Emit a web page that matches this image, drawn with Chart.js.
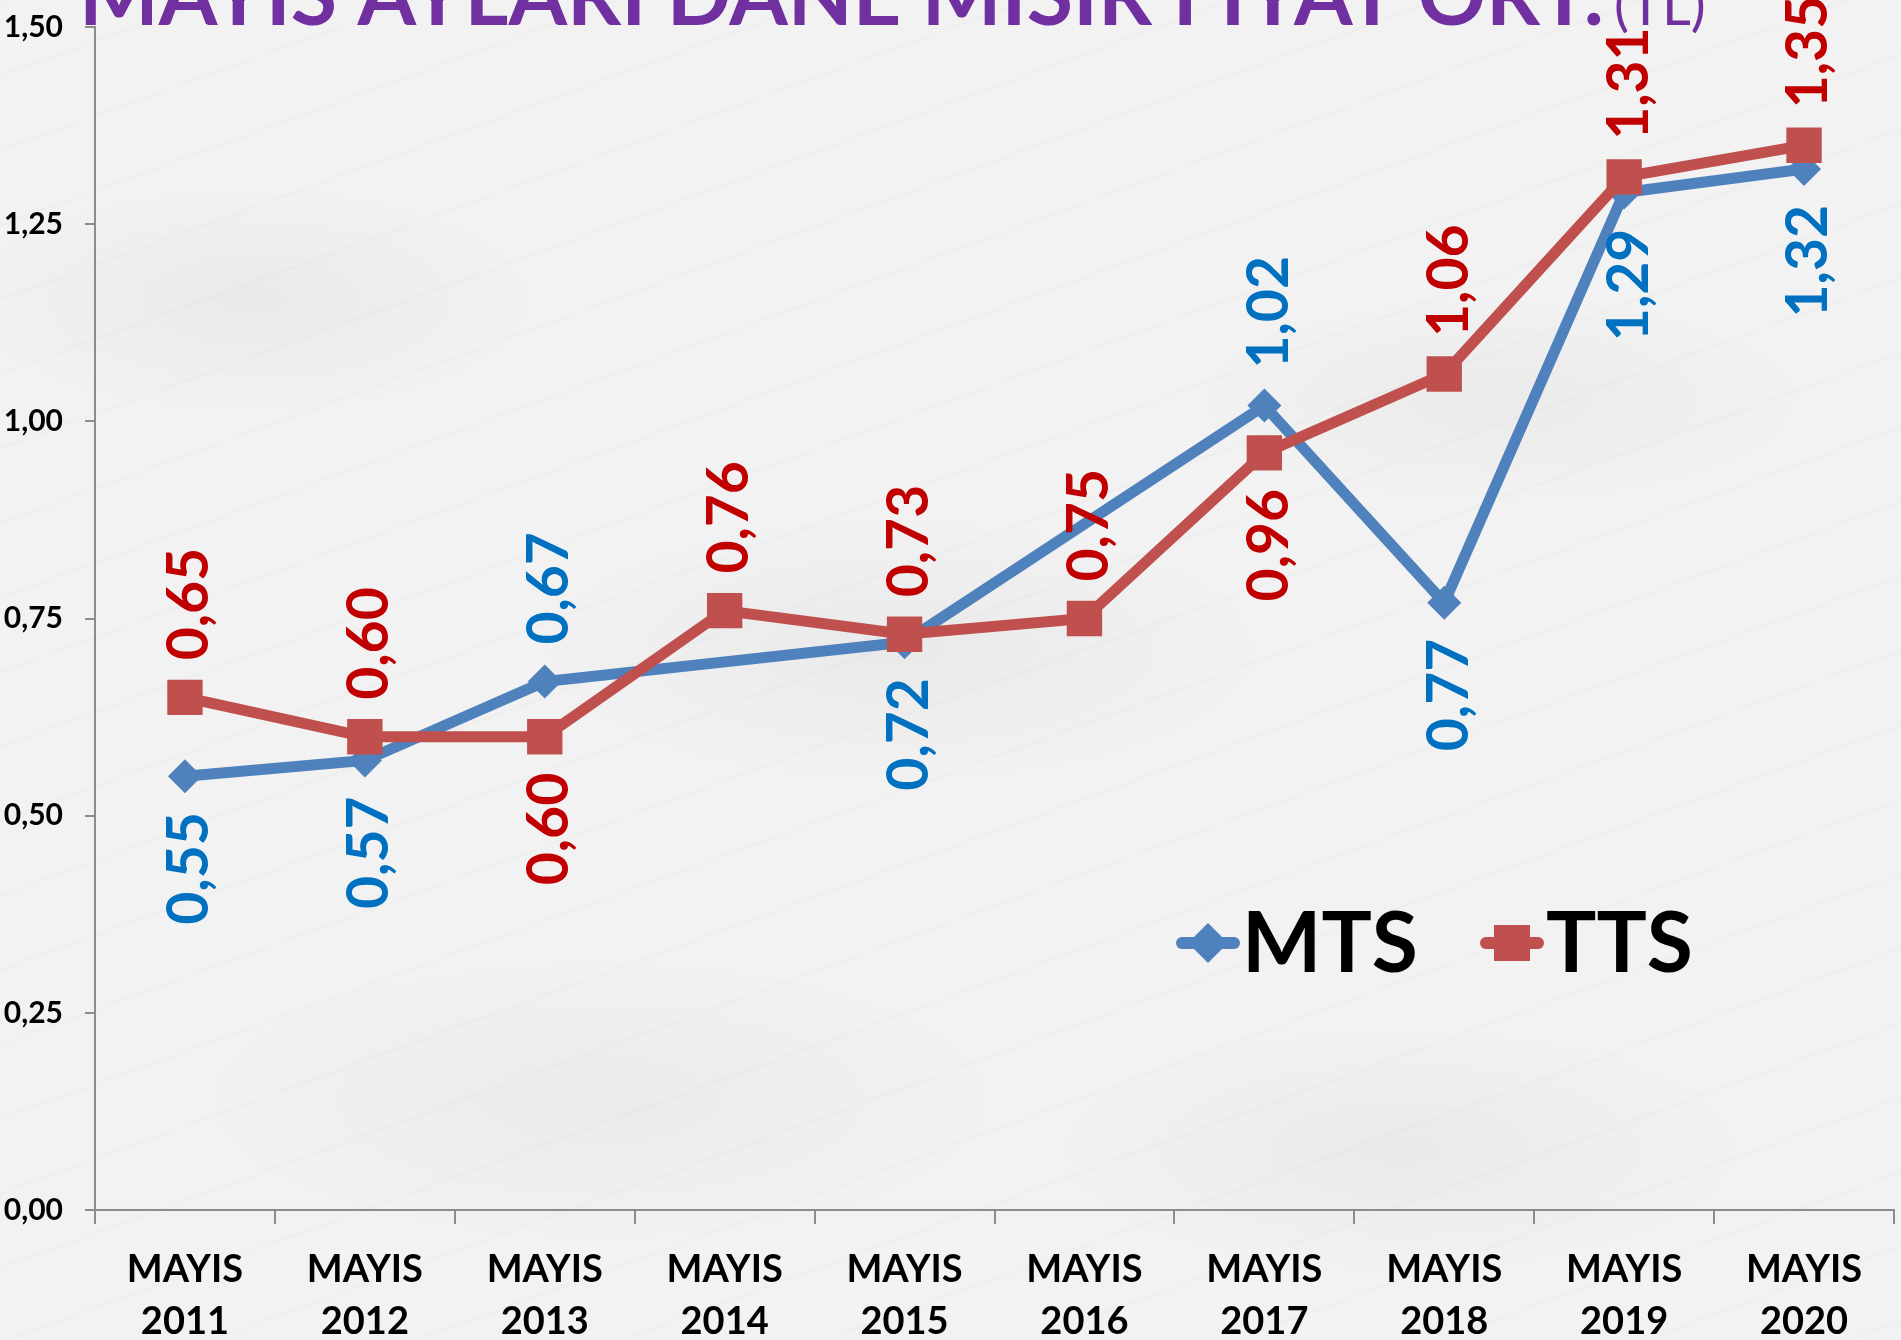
<!DOCTYPE html>
<html>
<head>
<meta charset="utf-8">
<script src="https://cdn.jsdelivr.net/npm/chart.js@4.4.0/dist/chart.umd.min.js"></script>
<style>
  html, body { margin: 0; padding: 0; }
  body {
    width: 1901px; height: 1340px; overflow: hidden;
    background-color: #f2f2f2;
    background-image:
      radial-gradient(ellipse 300px 120px at 250px 300px, rgba(0,0,0,0.035), rgba(0,0,0,0)),
      radial-gradient(ellipse 380px 140px at 900px 650px, rgba(0,0,0,0.035), rgba(0,0,0,0)),
      radial-gradient(ellipse 320px 110px at 1500px 400px, rgba(0,0,0,0.03), rgba(0,0,0,0)),
      radial-gradient(ellipse 420px 150px at 600px 1100px, rgba(0,0,0,0.03), rgba(0,0,0,0)),
      radial-gradient(ellipse 360px 130px at 1400px 1150px, rgba(0,0,0,0.035), rgba(0,0,0,0)),
      repeating-linear-gradient(160deg, rgba(0,0,0,0.012) 0 3px, rgba(0,0,0,0) 3px 70px);
  }
</style>
</head>
<body>
<canvas id="lineChart" width="1901" height="1340"></canvas>
<script>
// Data
const years = ['2011', '2012', '2013', '2014', '2015', '2016', '2017', '2018', '2019', '2020'];
const categories = years.map(y => ['MAYIS', y]);
const mtsValues = [0.55, 0.57, 0.67, null, 0.72, null, 1.02, 0.77, 1.29, 1.32];
const ttsValues = [0.65, 0.60, 0.60, 0.76, 0.73, 0.75, 0.96, 1.06, 1.31, 1.35];
const yTicks = [0, 0.25, 0.5, 0.75, 1.0, 1.25, 1.5];

// which side of the point each value label sits on: 1 above, -1 below
const mtsLabelSide = [-1, -1, 1, 0, -1, 0, 1, -1, -1, -1];
const ttsLabelSide = [1, 1, -1, 1, 1, 1, -1, 1, 1, 1];

const FONT = 'Lato';
const MTS_COLOR = '#4F81BD';
const TTS_COLOR = '#C0504D';
const AXIS_COLOR = '#8c8c8c';

const fmt = v => v.toFixed(2).replace('.', ',');

const extras = {
  id: 'extras',
  afterDraw(chart) {
    const ctx = chart.ctx;

    // title (its top runs off the canvas, like the reference)
    ctx.save();
    ctx.fillStyle = '#7030A0';
    ctx.textBaseline = 'alphabetic';
    ctx.textAlign = 'left';
    const mainTitle = 'MAYIS AYLARI DANE MISIR FIYAT ORT.';
    ctx.font = `bold 80px ${FONT}`;
    const w = ctx.measureText(mainTitle).width;
    const size = 80 * 1525 / w;
    ctx.font = `bold ${size}px ${FONT}`;
    ctx.fillText(mainTitle, 79, 25);
    ctx.font = `56px ${FONT}`;
    ctx.fillText('(TL)', 1614, 25);
    ctx.restore();

    // legend inside the plot
    const drawLegendItem = (x, color, style, text) => {
      const y = 943;
      ctx.save();
      ctx.strokeStyle = color;
      ctx.lineWidth = 12;
      ctx.lineCap = 'round';
      ctx.beginPath();
      ctx.moveTo(x - 26, y);
      ctx.lineTo(x + 26, y);
      ctx.stroke();
      ctx.fillStyle = color;
      ctx.beginPath();
      if (style === 'diamond') {
        ctx.moveTo(x - 20, y); ctx.lineTo(x, y - 20); ctx.lineTo(x + 20, y); ctx.lineTo(x, y + 20);
      } else {
        ctx.rect(x - 18, y - 18, 36, 36);
      }
      ctx.closePath();
      ctx.fill();
      ctx.fillStyle = '#000';
      ctx.font = `bold 84px ${FONT}`;
      ctx.textBaseline = 'middle';
      ctx.fillText(text, x + 34, y + 2);
      ctx.restore();
    };
    drawLegendItem(1208, MTS_COLOR, 'diamond', 'MTS');
    drawLegendItem(1512, TTS_COLOR, 'square', 'TTS');

    // rotated value labels
    const sides = [mtsLabelSide, ttsLabelSide];
    const colors = ['#0070C0', '#C00000'];
    chart.data.datasets.forEach((ds, di) => {
      const meta = chart.getDatasetMeta(di);
      meta.data.forEach((pt, i) => {
        const v = ds.data[i];
        if (v === null || v === undefined) return;
        const side = sides[di][i];
        ctx.save();
        ctx.translate(pt.x + 5, pt.y);
        ctx.rotate(-Math.PI / 2);
        ctx.font = `bold 57px ${FONT}`;
        ctx.fillStyle = colors[di];
        ctx.textBaseline = 'middle';
        if (side > 0) {
          ctx.textAlign = 'left';
          ctx.fillText(fmt(v), 37, 0);
        } else {
          ctx.textAlign = 'right';
          ctx.fillText(fmt(v), -36, 0);
        }
        ctx.restore();
      });
    });
  }
};

const ctx = document.getElementById('lineChart').getContext('2d');
new Chart(ctx, {
  type: 'line',
  data: {
    labels: categories,
    datasets: [
      {
        label: 'MTS',
        data: mtsValues,
        borderColor: MTS_COLOR,
        backgroundColor: MTS_COLOR,
        borderWidth: 11,
        pointStyle: 'rectRot',
        pointRadius: 17,
        pointBorderWidth: 0,
        spanGaps: true,
        tension: 0,
        order: 2
      },
      {
        label: 'TTS',
        data: ttsValues,
        borderColor: TTS_COLOR,
        backgroundColor: TTS_COLOR,
        borderWidth: 11,
        pointStyle: 'rect',
        pointRadius: 25,
        pointBorderWidth: 0,
        tension: 0,
        order: 1
      }
    ]
  },
  options: {
    responsive: false,
    animation: false,
    layout: { autoPadding: false, padding: { top: 27, right: 7, left: 0, bottom: 0 } },
    plugins: {
      legend: { display: false },
      tooltip: { enabled: false },
      title: { display: false }
    },
    scales: {
      x: {
        offset: true,
        grid: { display: true, drawOnChartArea: false, offset: true, tickLength: 14, color: AXIS_COLOR, lineWidth: 2 },
        border: { display: true, color: AXIS_COLOR, width: 2 },
        ticks: {
          color: '#000',
          font: { family: FONT, weight: 'bold', size: 38, lineHeight: 1.36 },
          padding: 20,
          maxRotation: 0,
          autoSkip: false
        },
        afterFit: s => { s.height = 130; s.paddingLeft = 0; s.paddingRight = 0; }
      },
      y: {
        min: 0,
        max: 1.5,
        afterBuildTicks: s => { s.ticks = yTicks.map(v => ({ value: v })); },
        grid: { display: true, drawOnChartArea: false, tickLength: 10, color: AXIS_COLOR, lineWidth: 2 },
        border: { display: true, color: AXIS_COLOR, width: 2 },
        ticks: {
          color: '#000',
          font: { family: FONT, weight: 'bold', size: 30 },
          padding: 22,
          callback: v => fmt(v)
        },
        afterFit: s => { s.width = 95; s.paddingTop = 0; s.paddingBottom = 0; }
      }
    }
  },
  plugins: [extras]
});
</script>
</body>
</html>
